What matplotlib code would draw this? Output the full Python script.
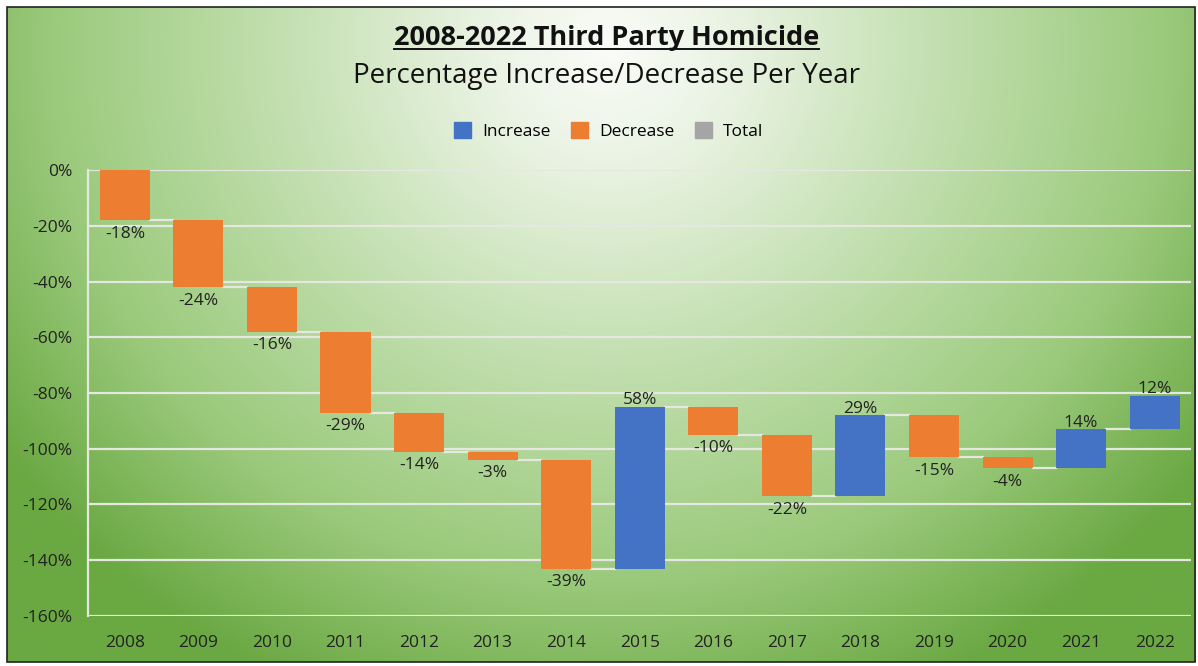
import matplotlib.pyplot as plt
import numpy as np
from matplotlib.patches import Patch, Rectangle
from matplotlib.lines import Line2D

plt.rcParams['font.family'] = ['Open Sans', 'DejaVu Sans']

# data
years = ['2008', '2009', '2010', '2011', '2012', '2013', '2014', '2015',
         '2016', '2017', '2018', '2019', '2020', '2021', '2022']
changes = [-18, -24, -16, -29, -14, -3, -39, 58, -10, -22, 29, -15, -4, 14, 12]
yticks = [0, -20, -40, -60, -80, -100, -120, -140, -160]

c_inc = '#4472C4'
c_dec = '#ED7D31'
c_tot = '#A5A5A5'
c_grid = '#E4E8E0'

changes = np.array(changes)
ends = np.cumsum(changes)
starts = ends - changes

fig = plt.figure(figsize=(11.98, 6.66), dpi=100)
fig.patch.set_facecolor('white')

# green radial background inside the black frame
fx0, fy0, fw, fh = 0.006, 0.006, 0.9917, 0.9835
bg = fig.add_axes([fx0, fy0, fw, fh], zorder=0)
H, W = 330, 600
yy, xx = np.mgrid[0:H, 0:W]
px = xx / W * 1188
py = yy / H * 655
d = np.sqrt((px - 600) ** 2 + ((py - 40) * 1.05) ** 2) / 740
d = np.clip(d, 0, 1)
stops_t = [0.0, 0.15, 0.45, 0.75, 1.0]
stops_c = np.array([[250, 252, 248], [236, 244, 230], [194, 223, 175],
                    [155, 202, 124], [106, 168, 66]]) / 255
img = np.stack([np.interp(d, stops_t, stops_c[:, k]) for k in range(3)], axis=-1)
bg.imshow(img, aspect='auto', extent=[0, 1, 0, 1], origin='upper')
bg.set_xlim(0, 1)
bg.set_ylim(0, 1)
bg.axis('off')
fig.add_artist(Rectangle((fx0, fy0), fw, fh, transform=fig.transFigure,
                         fill=False, edgecolor='#222222', lw=1.2, zorder=5))

ax = fig.add_axes([0.0735, 0.0751, 0.921, 0.6696], zorder=2)
ax.set_facecolor('none')

colors = [c_inc if c > 0 else c_dec for c in changes]
x = np.arange(len(years))
width = 0.68
ax.bar(x, ends - starts, bottom=starts, width=width, color=colors, zorder=3)

# connector lines between bars
for i in range(len(years) - 1):
    ax.plot([x[i] + width / 2, x[i + 1] - width / 2], [ends[i], ends[i]],
            color=c_grid, lw=1.6, zorder=2)

# data labels
for i, c in enumerate(changes):
    if c < 0:
        ax.annotate(f'{c}%', (x[i], min(starts[i], ends[i])), xytext=(0, -4),
                    textcoords='offset points', ha='center', va='top',
                    fontsize=12.5, color='#222222')
    else:
        ax.annotate(f'{c}%', (x[i], max(starts[i], ends[i])), xytext=(0, -1),
                    textcoords='offset points', ha='center', va='bottom',
                    fontsize=12.5, color='#222222')

ax.set_xlim(-0.5, len(years) - 0.5)
ax.set_ylim(-160, 0)
ax.set_yticks(yticks)
ax.set_yticklabels([f'{v}%' for v in yticks])
ax.set_xticks(x)
ax.set_xticklabels(years)
ax.tick_params(axis='both', length=0, labelsize=12.5, colors='#222222')
ax.tick_params(axis='y', pad=11)
ax.tick_params(axis='x', pad=14)
ax.yaxis.grid(True, color=c_grid, lw=1.6, zorder=0)
ax.set_axisbelow(True)
for s in ['top', 'right', 'bottom']:
    ax.spines[s].set_visible(False)
ax.spines['left'].set_color(c_grid)
ax.spines['left'].set_linewidth(1.6)

# titles
t1 = fig.text(0.506, 0.943, '2008-2022 Third Party Homicide', ha='center',
              va='center', fontsize=19.5, fontweight='bold', color='#111111')
fig.text(0.506, 0.886, 'Percentage Increase/Decrease Per Year', ha='center',
         va='center', fontsize=20, color='#111111')

fig.canvas.draw()
bb = t1.get_window_extent().transformed(fig.transFigure.inverted())
fig.add_artist(Line2D([bb.x0, bb.x1], [bb.y0 + 0.003, bb.y0 + 0.003],
                      transform=fig.transFigure, color='#111111', lw=1.4))

handles = [Patch(color=c_inc, label='Increase'),
           Patch(color=c_dec, label='Decrease'),
           Patch(color=c_tot, label='Total')]
fig.legend(handles=handles, loc='center', bbox_to_anchor=(0.508, 0.803),
           ncol=3, frameon=False, fontsize=12.5, handlelength=1.0,
           handleheight=1.0, columnspacing=1.2, handletextpad=0.6)

fig.savefig('out.png', dpi=100, facecolor='white')
